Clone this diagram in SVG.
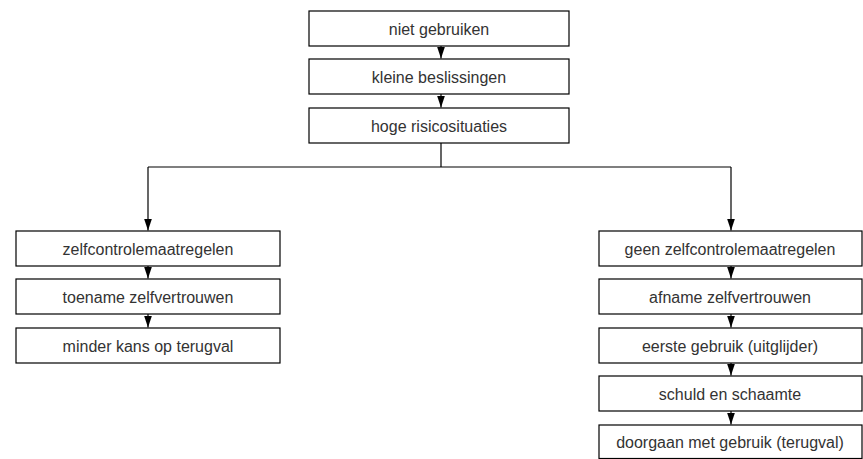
<svg xmlns="http://www.w3.org/2000/svg" width="863" height="459" viewBox="0 0 863 459">
<defs>
<style>
.box{fill:#fff;stroke:#000;stroke-width:1.2}
.t{font-family:"Liberation Sans",Arial,sans-serif;font-size:16px;fill:#333;text-anchor:middle}
.c{fill:none;stroke:#000;stroke-width:1.2}
</style>
<marker id="ah" markerWidth="12" markerHeight="8" refX="12" refY="4" orient="auto" markerUnits="userSpaceOnUse" viewBox="0 0 12 8">
<path d="M0,0 L12,4 L0,8 Z" fill="#000"/>
</marker>
</defs>
<rect width="863" height="459" fill="#fff"/>
<g id="connectors">
<path class="c" d="M441,46 V58.5" marker-end="url(#ah)"/>
<path class="c" d="M441,94 V107.5" marker-end="url(#ah)"/>
<path class="c" d="M441,143 V167 M148,167 H731"/>
<path class="c" d="M148,167 V230.5" marker-end="url(#ah)"/>
<path class="c" d="M731,167 V230.5" marker-end="url(#ah)"/>
<path class="c" d="M148,266 V278.5" marker-end="url(#ah)"/>
<path class="c" d="M148,314 V327.5" marker-end="url(#ah)"/>
<path class="c" d="M731,266 V278.5" marker-end="url(#ah)"/>
<path class="c" d="M731,314 V327.5" marker-end="url(#ah)"/>
<path class="c" d="M731,363 V375.5" marker-end="url(#ah)"/>
<path class="c" d="M731,411 V424.5" marker-end="url(#ah)"/>
</g>
<g id="n1"><rect class="box" x="309" y="11" width="260" height="35"/><text class="t" x="439" y="34.5">niet gebruiken</text></g>
<g id="n2"><rect class="box" x="309" y="59" width="260" height="35"/><text class="t" x="439" y="82.5">kleine beslissingen</text></g>
<g id="n3"><rect class="box" x="309" y="108" width="260" height="35"/><text class="t" x="439" y="131.5">hoge risicosituaties</text></g>
<g id="l1"><rect class="box" x="16" y="231" width="264" height="35"/><text class="t" x="148" y="254.5">zelfcontrolemaatregelen</text></g>
<g id="l2"><rect class="box" x="16" y="279" width="264" height="35"/><text class="t" x="148" y="302.5">toename zelfvertrouwen</text></g>
<g id="l3"><rect class="box" x="16" y="328" width="264" height="35"/><text class="t" x="148" y="351.5">minder kans op terugval</text></g>
<g id="r1"><rect class="box" x="599" y="231" width="263" height="35"/><text class="t" x="730" y="254.5">geen zelfcontrolemaatregelen</text></g>
<g id="r2"><rect class="box" x="599" y="279" width="263" height="35"/><text class="t" x="730" y="302.5">afname zelfvertrouwen</text></g>
<g id="r3"><rect class="box" x="599" y="328" width="263" height="35"/><text class="t" x="730" y="351.5">eerste gebruik (uitglijder)</text></g>
<g id="r4"><rect class="box" x="599" y="376" width="263" height="35"/><text class="t" x="730" y="399.5">schuld en schaamte</text></g>
<g id="r5"><rect class="box" x="599" y="425" width="263" height="33.5"/><text class="t" x="730" y="448">doorgaan met gebruik (terugval)</text></g>
</svg>
